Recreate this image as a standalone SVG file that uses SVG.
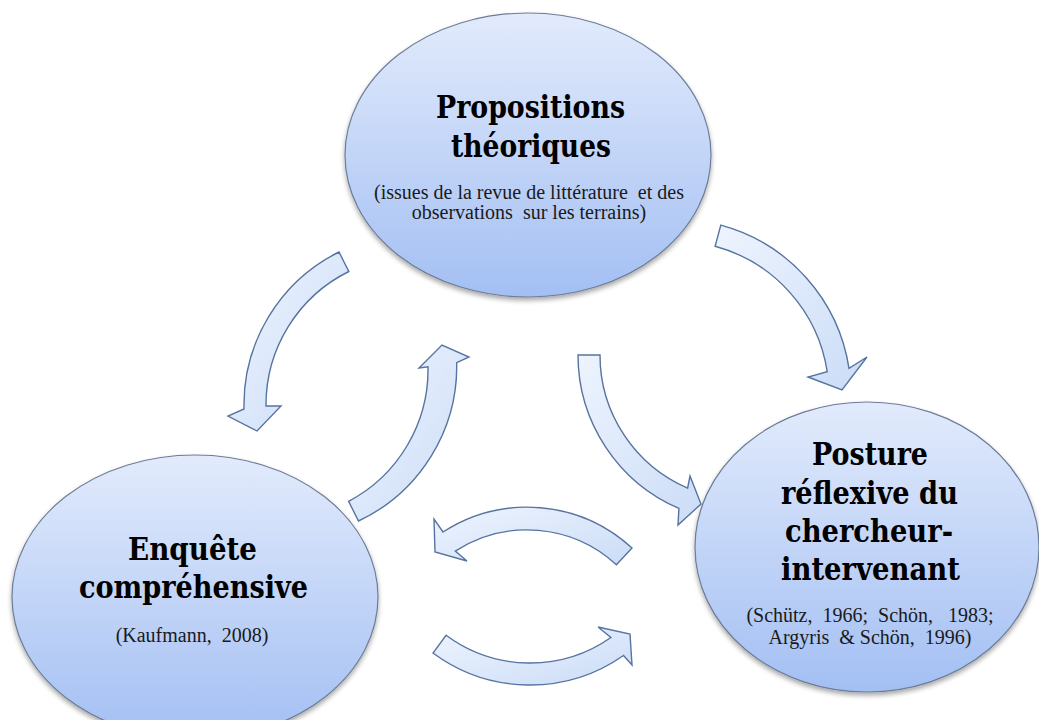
<svg xmlns="http://www.w3.org/2000/svg" width="1039" height="720" viewBox="0 0 1039 720">
<style>
.node{fill:url(#gNode);stroke:#6d7d97;stroke-width:1.2;filter:url(#sh)}
.arr{fill:url(#gArr);stroke:#56749f;stroke-width:1.4;stroke-linejoin:miter}
.ttl{font-family:'DejaVu Serif',serif;font-weight:bold;font-size:31px;fill:#000;text-anchor:middle}
.sub{font-family:'Liberation Serif','Times New Roman',serif;font-size:20px;fill:#1a1a1a;text-anchor:middle;white-space:pre}
</style>
<defs>
<linearGradient id="gNode" x1="0" y1="0" x2="0" y2="1">
<stop offset="0" stop-color="#e2ebfc"/>
<stop offset="1" stop-color="#a3bff3"/>
</linearGradient>
<linearGradient id="gArr" x1="0" y1="0" x2="1" y2="1">
<stop offset="0" stop-color="#eef4fe"/>
<stop offset="1" stop-color="#cbdcf7"/>
</linearGradient>
<filter id="sh" x="-10%" y="-10%" width="120%" height="125%">
<feGaussianBlur in="SourceAlpha" stdDeviation="2.5"/>
<feOffset dx="0" dy="3" result="b"/>
<feComponentTransfer><feFuncA type="linear" slope="0.35"/></feComponentTransfer>
<feMerge><feMergeNode/><feMergeNode in="SourceGraphic"/></feMerge>
</filter>
</defs>
<rect width="1039" height="720" fill="#fff"/>
<g id="node-propositions">
<ellipse class="node" cx="528" cy="155" rx="183" ry="142"/>
<text class="ttl" x="530.5" y="118" textLength="189" lengthAdjust="spacingAndGlyphs">Propositions</text>
<text class="ttl" x="531" y="157" textLength="160" lengthAdjust="spacingAndGlyphs">théoriques</text>
<text class="sub" x="529" y="199">(issues de la revue de littérature  et des</text>
<text class="sub" x="529" y="219">observations  sur les terrains)</text>
</g>
<g id="node-posture">
<ellipse class="node" cx="867" cy="547" rx="172" ry="145"/>
<text class="ttl" x="870" y="465" textLength="116" lengthAdjust="spacingAndGlyphs">Posture</text>
<text class="ttl" x="869.5" y="504" textLength="177" lengthAdjust="spacingAndGlyphs">réflexive du</text>
<text class="ttl" x="869" y="542" textLength="168" lengthAdjust="spacingAndGlyphs">chercheur-</text>
<text class="ttl" x="870.5" y="580" textLength="179" lengthAdjust="spacingAndGlyphs">intervenant</text>
<text class="sub" x="870" y="622">(Schütz,  1966;  Schön,   1983;</text>
<text class="sub" x="870" y="644">Argyris  &amp; Schön,  1996)</text>
</g>
<g id="node-enquete">
<ellipse class="node" cx="195" cy="597" rx="183" ry="142"/>
<text class="ttl" x="192.5" y="560" textLength="129" lengthAdjust="spacingAndGlyphs">Enquête</text>
<text class="ttl" x="193.5" y="598" textLength="229" lengthAdjust="spacingAndGlyphs">compréhensive</text>
<text class="sub" x="192" y="642">(Kaufmann,  2008)</text>
</g>
<g id="connectors">
<path class="arr" d="M339,252 A171 171 0 0 0 244,409 L228,416 L257,431 L281,406 L266,406 A149 149 0 0 1 348.8,271.5 Z"/>
<path class="arr" d="M358.5,521 A171 171 0 0 0 456.7,362.7 L469,357 L442,345 L419,368 L428,366.7 A149 149 0 0 1 348.6,501.3 Z"/>
<path class="arr" d="M720.8,225.1 A176 176 0 0 1 849,368.4 L867,357 L842,390 L808,377 L827.2,371.7 A154 154 0 0 0 715.1,246.3 Z"/>
<path class="arr" d="M578,355 A167 167 0 0 0 678.9,508.4 L678,525 L701,504 L690,476 L687.6,488.2 A145 145 0 0 1 600,355 Z"/>
<path class="arr" d="M632,548 A155 155 0 0 0 443,532 L434,519 L435,552 L467,561 L455.3,551.1 A132 132 0 0 1 616.4,564.8 Z"/>
<path class="arr" d="M433,653 A163 163 0 0 0 623.5,655.5 L632,665 L630,634 L598,627 L610.9,637.5 A141 141 0 0 1 446.1,635.3 Z"/>
</g>
</svg>
